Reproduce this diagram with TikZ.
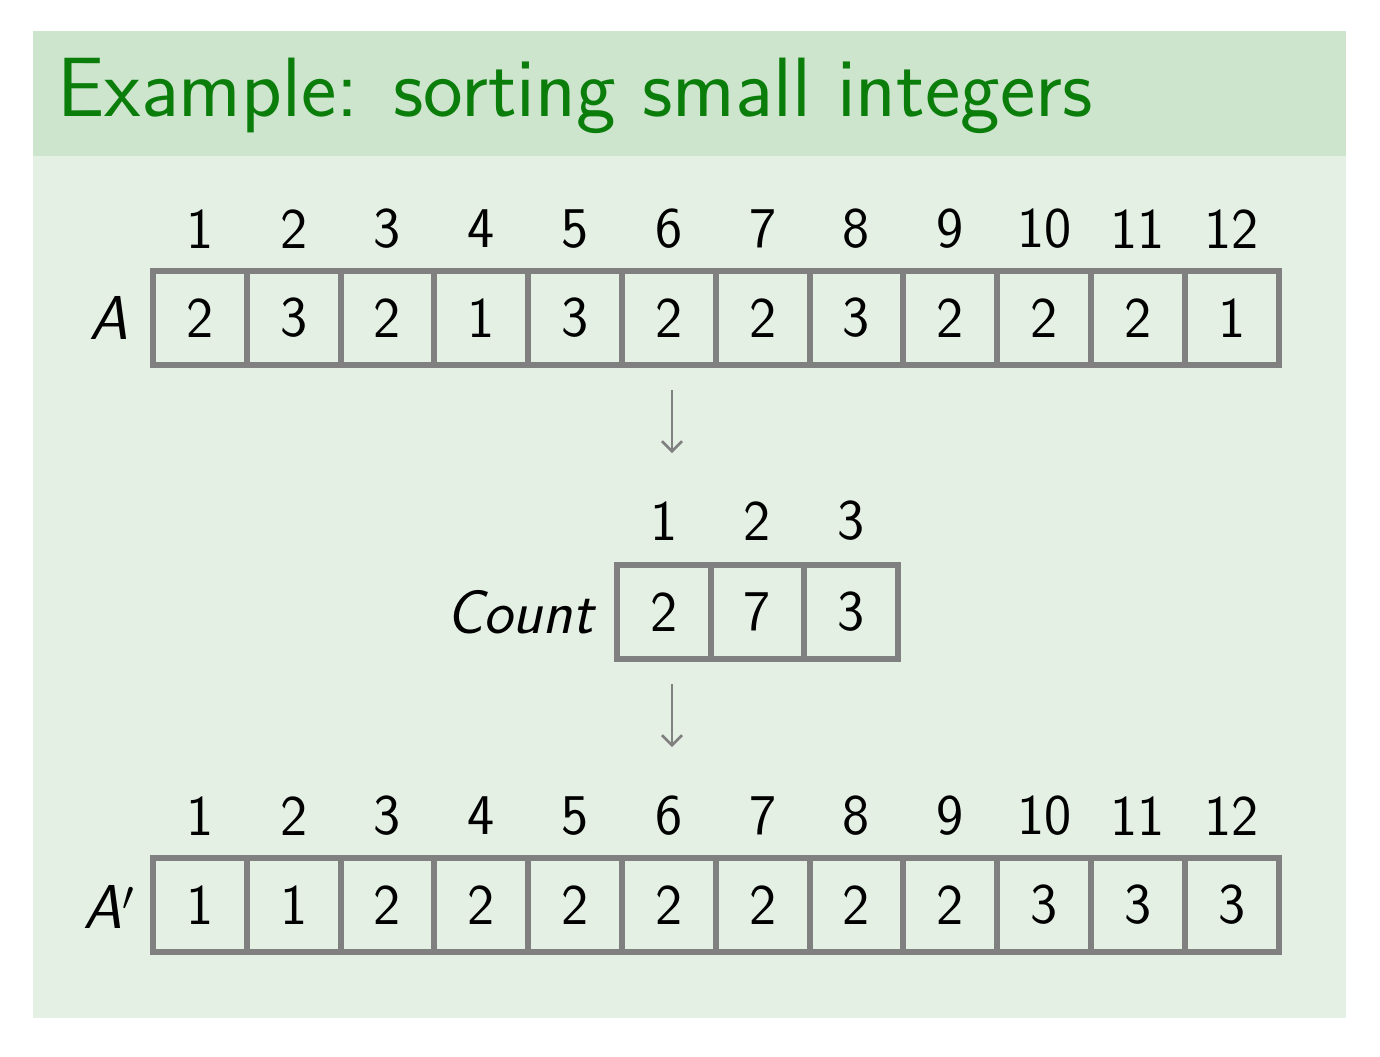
\documentclass[tikz,border=0pt]{standalone}
\usetikzlibrary{arrows.meta}
\definecolor{headbg}{HTML}{CDE5CD}
\definecolor{bodybg}{HTML}{E5F0E5}
\definecolor{titlegreen}{HTML}{0B7D0B}
\definecolor{cellgray}{HTML}{808080}
\newcommand{\bigsf}{\sffamily\fontsize{28.8}{34}\selectfont}
\newcommand{\lblsf}{\sffamily\itshape\fontsize{31}{36}\selectfont}
\begin{document}
\begin{tikzpicture}[x=0.5pt,y=-0.5pt,
  cell/.style={draw=cellgray, line width=3pt, minimum width=46.9pt,
    minimum height=47pt, inner sep=0pt, font=\bigsf},
  idx/.style={inner sep=0pt, font=\bigsf},
  lbl/.style={inner sep=0pt, font=\lblsf},
  flow/.style={draw=cellgray, line width=1.3pt,
    -{Straight Barb[length=5pt,width=10pt]}}]
\useasboundingbox (0,0) rectangle (1380,1056);
% frame body and title bar
\fill[bodybg] (33,156) rectangle (1346,1018);
\fill[headbg] (33,31) rectangle (1346,156);
\node[anchor=base west, inner sep=0pt, text=titlegreen,
  font=\sffamily\fontsize{42.1}{50}\selectfont] (title) at (57,116)
  {Example: sorting small integers};

% input array A
\node[lbl] (labA) at (109,318) {A};
\foreach \v [count=\i] in {2,3,2,1,3,2,2,3,2,2,2,1} {
  \node[cell] (a\i) at ({153+93.8*(\i-0.5)},318) {\v};
  \node[idx] (ai\i) at ({153+93.8*(\i-0.5)},229) {\i};
}

% counting array
\node[lbl] (labC) at (520,612) {Count};
\foreach \v [count=\i] in {2,7,3} {
  \node[cell] (c\i) at ({617+93.6*(\i-0.5)},612) {\v};
  \node[idx] (ci\i) at ({617+93.6*(\i-0.5)},521) {\i};
}

% sorted array A'
\node[lbl] (labB) at (109,907) {A$'$};
\foreach \v [count=\i] in {1,1,2,2,2,2,2,2,2,3,3,3} {
  \node[cell] (b\i) at ({153+93.8*(\i-0.5)},905) {\v};
  \node[idx] (bi\i) at ({153+93.8*(\i-0.5)},816) {\i};
}

% flow arrows
\coordinate (f1s) at (672,390);
\coordinate (f1e) at (672,453);
\coordinate (f2s) at (672,684);
\coordinate (f2e) at (672,747);
\draw[flow] (f1s) -- (f1e);
\draw[flow] (f2s) -- (f2e);
\end{tikzpicture}
\end{document}
